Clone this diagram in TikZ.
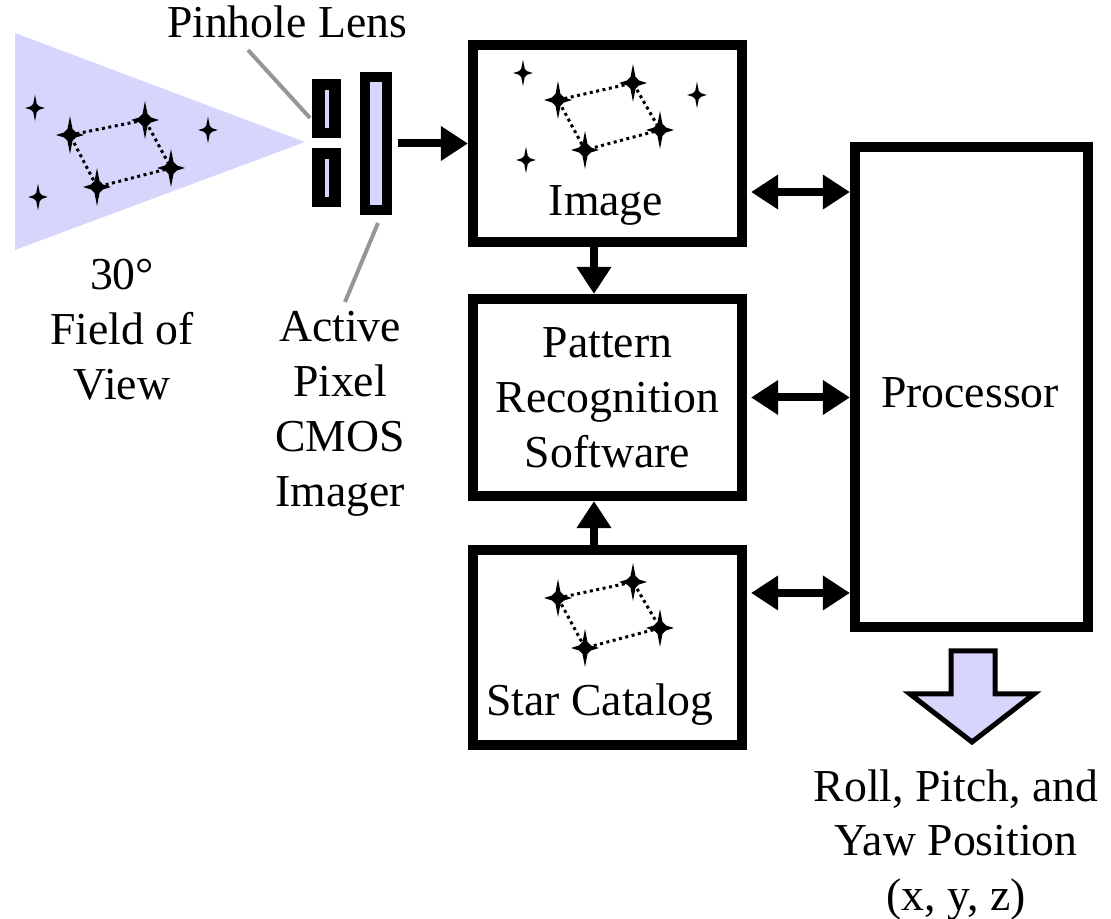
\documentclass[tikz,border=0pt]{standalone}
\usepackage{fontspec}
\setmainfont{Liberation Serif}
\usepackage{xcolor}
\usepackage{tikz}
\usetikzlibrary{arrows.meta}
\definecolor{fovblue}{RGB}{214,214,252}
\definecolor{leadgray}{RGB}{150,150,150}

\begin{document}
\begin{tikzpicture}[x=0.01cm,y=-0.01cm,
    font=\fontsize{13}{15.6}\selectfont,
    block/.style={draw,line width=0.1cm,minimum width=2.69cm,minimum height=1.97cm,inner sep=0pt},
    conn/.style={line width=0.08cm,-{Triangle[length=0.27cm,width=0.33cm]}},
    biconn/.style={line width=0.08cm,{Triangle[length=0.27cm,width=0.33cm]}-{Triangle[length=0.27cm,width=0.33cm]}},
    leader/.style={leadgray,line width=0.04cm},
    link/.style={densely dotted,line width=0.03cm}]
    \useasboundingbox (0,0) rectangle (1111,919);

    \newcommand{\drawstar}[3]{%
        \fill[shift={(#1,#2)},scale=#3]
            (0,-19) -- (2.5,-6) -- (6,-2.5) -- (14,0) -- (6,2.5) -- (2.5,6)
            -- (0,19) -- (-2.5,6) -- (-6,2.5) -- (-14,0) -- (-6,-2.5) -- (-2.5,-6) -- cycle;
    }
    \newcommand{\drawquad}[8]{%
        \draw[link] (#1,#2) -- (#3,#4) -- (#5,#6) -- (#7,#8) -- cycle;
        \foreach \sx/\sy in {#1/#2,#3/#4,#5/#6,#7/#8} {
            \drawstar{\sx}{\sy}{1}
        }
    }

    \fill[fovblue] (15,33) -- (305,142) -- (15,250) -- cycle;
    \foreach \sx/\sy in {35/108,38/197,208/130} {
        \drawstar{\sx}{\sy}{0.7}
    }
    \drawquad{70}{135}{145}{120}{171}{168}{97}{187}

    \foreach \top in {79,148} {
        \fill ({312},{\top}) rectangle ++(29,59);
        \fill[fovblue] ({325},{\top+11}) rectangle ++(4,38);
    }
    \node[draw,line width=0.1cm,fill=fovblue,minimum width=0.22cm,minimum height=1.33cm,inner sep=0pt]
        (imgr) at (376,143.5) {};

    \node (lenslbl) at (287,22) {Pinhole Lens};
    \node[align=center] (fovlbl) at (122,330) {30°\\Field of\\View};
    \node[align=center] (imgrlbl) at (340,414) {Active\\Pixel\\CMOS\\Imager};
    \coordinate (lenstop) at (248,50);
    \coordinate (lensend) at (310,118);
    \coordinate (imgrtop) at (378,223);
    \coordinate (imgrend) at (345,302);
    \draw[leader] (lenstop) -- (lensend);
    \draw[leader] (imgrtop) -- (imgrend);

    \node[block] (img) at (607.5,143.5) {};
    \node (imglbl) at (606,205) {Image};
    \foreach \sx/\sy in {523/73,697/95,526/160} {
        \drawstar{\sx}{\sy}{0.7}
    }
    \drawquad{558}{100}{633}{83}{660}{130}{585}{150}

    \node[block,align=center] (patt) at (607.5,397.5) {Pattern\\Recognition\\Software};

    \node[block,minimum height=1.95cm] (cat) at (607.5,647.5) {};
    \node (catlbl) at (600,705) {Star Catalog};
    \drawquad{558}{598}{633}{582}{660}{628}{585}{648}

    \node[block,minimum width=2.33cm,minimum height=4.8cm] (proc) at (971.5,387) {};
    \node (proclbl) at (970,393) {Processor};

    \draw[conn] (imgr.east) ++(6,0) -- (img.west);
    \draw[conn] ([xshift=-0.135cm]img.south) -- ([xshift=-0.135cm]patt.north);
    \draw[conn] ([xshift=-0.135cm]cat.north) -- ([xshift=-0.135cm]patt.south);

    \coordinate (imgout) at ([yshift=-0.485cm]img.east);
    \coordinate (catout) at ([yshift=0.545cm]cat.east);
    \draw[biconn] ([xshift=0.04cm]imgout) -- (imgout -| proc.west);
    \draw[biconn] ([xshift=0.04cm]patt.east) -- (patt.east -| proc.west);
    \draw[biconn] ([xshift=0.04cm]catout) -- (catout -| proc.west);

    \draw[line width=0.05cm,fill=fovblue]
        (951,651) -- (995,651) -- (995,694) -- (1034,694)
        -- (972,742) -- (910,694) -- (951,694) -- cycle;
    \node[align=center] (outlbl) at (956,845) {Roll, Pitch, and\\Yaw Position\\(x, y, z)};
\end{tikzpicture}
\end{document}
